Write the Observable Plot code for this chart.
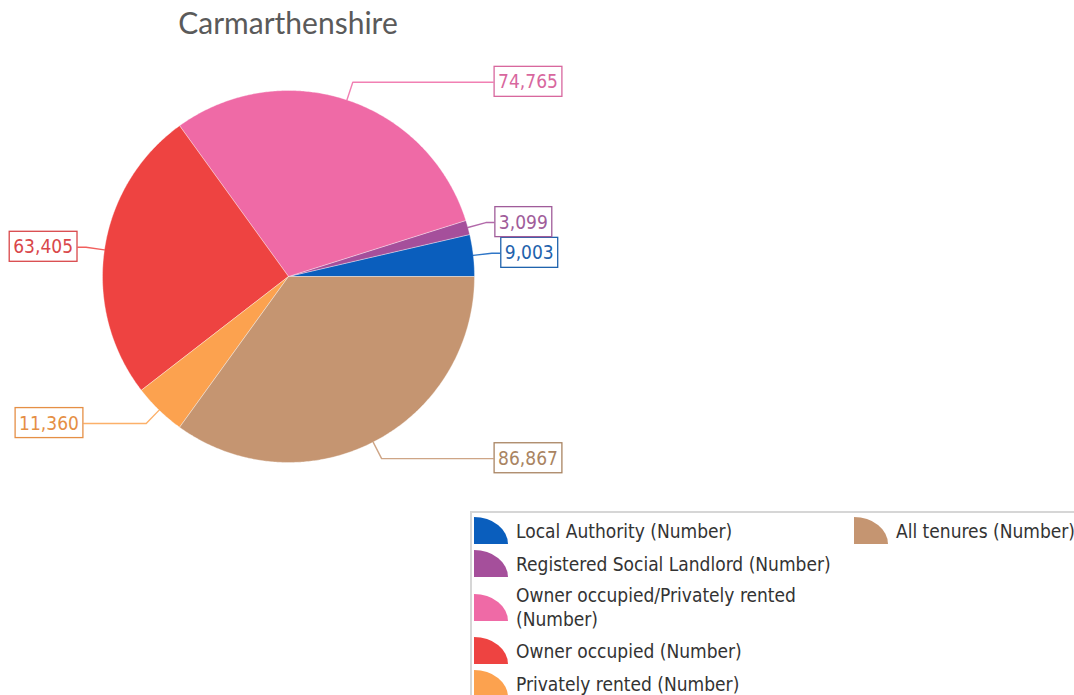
<!DOCTYPE html>
<html>
<head>
<meta charset="utf-8">
<script src="https://cdn.jsdelivr.net/npm/d3@7"></script>
<script src="https://cdn.jsdelivr.net/npm/@observablehq/plot@0.6"></script>
<style>
  html, body { margin: 0; padding: 0; background: #fff; overflow: hidden; }
  #wrap { position: relative; width: 1074px; height: 695px; overflow: hidden; }
  #title { position: absolute; left: 0; top: 4px; width: 576px; text-align: center;
           font-family: Lato, "Open Sans", sans-serif; font-size: 30px; color: #5a5a5a; }
  #chart { position: absolute; left: 0; top: 50px; }
  #legend { position: absolute; left: 470px; top: 511px; width: 640px; height: 220px;
            border: 2px solid #d6d6d6; background: #fff; box-sizing: border-box;
            display: flex; padding-top: 1px; }
  .col { display: flex; flex-direction: column; }
  .col1 { width: 380px; padding-left: 2px; }
  .item { display: flex; align-items: center; padding: 3px 0; }
  .item svg { flex: none; margin-right: 8px; }
  .item span { font-family: "DejaVu Sans Condensed", "DejaVu Sans", sans-serif; font-stretch: condensed;
               font-size: 19px; line-height: 24px; color: #333; max-width: 330px; }
</style>
</head>
<body>
<div id="wrap">
  <div id="title"></div>
  <div id="chart"></div>
  <div id="legend"><div class="col col1" id="leg1"></div><div class="col" id="leg2"></div></div>
</div>
<script>
const title = "Carmarthenshire";
const categories = [
  "Local Authority (Number)",
  "Registered Social Landlord (Number)",
  "Owner occupied/Privately rented (Number)",
  "Owner occupied (Number)",
  "Privately rented (Number)",
  "All tenures (Number)"
];
const values = [9003, 3099, 74765, 63405, 11360, 86867];
const colors = ["#0a5ebd", "#a54f9b", "#ef6aa6", "#ee4341", "#fca24f", "#c59571"];
const textColors = ["#1f63ad", "#a05c9a", "#d8679e", "#d9474a", "#e58f45", "#a98462"];
const legendColumn1 = [0, 1, 2, 3, 4];
const legendColumn2 = [5];

document.getElementById("title").textContent = title;

// layout (pixels)
const cx = 288, cy = 226, R = 186;
const W = 1074, H = 460;

const total = d3.sum(values);
let acc = 0;
const slices = values.map((v, i) => {
  const a0 = acc / total * 2 * Math.PI;
  acc += v;
  const a1 = acc / total * 2 * Math.PI;
  return {i, cat: categories[i], value: v, a0, a1, mid: (a0 + a1) / 2};
});

function arcPoints(s) {
  const n = Math.max(2, Math.ceil((s.a1 - s.a0) / (Math.PI / 360)));
  const pts = [{x: 0, y: 0}];
  for (let k = 0; k <= n; k++) {
    const a = s.a0 + (s.a1 - s.a0) * k / n;
    pts.push({x: Math.cos(a), y: Math.sin(a)});
  }
  pts.push({x: 0, y: 0});
  return pts;
}

const elbowR = 1.1, minBox = 1.1, gap = 8 / R;
const leaders = slices.map(s => {
  const ex = elbowR * Math.cos(s.mid), ey = elbowR * Math.sin(s.mid);
  const side = Math.cos(s.mid) >= 0 ? 1 : -1;
  const bx = side * Math.max(minBox, Math.abs(ex) + gap);
  return {s, side, pts: [
    {x: Math.cos(s.mid), y: Math.sin(s.mid)},
    {x: ex, y: ey},
    {x: bx, y: ey}
  ], lx: bx, ly: ey};
});

const fmt = d3.format(",");
const labelFont = {fontFamily: "'DejaVu Sans Condensed', 'DejaVu Sans', sans-serif", fontSize: 19};

const marks = [];
slices.forEach(s => {
  marks.push(Plot.line(arcPoints(s), {x: "x", y: "y", fill: colors[s.i], stroke: "#ffffff", strokeWidth: 0.6, strokeOpacity: 0.6}));
});
leaders.forEach(l => {
  marks.push(Plot.line(l.pts, {x: "x", y: "y", stroke: colors[l.s.i], strokeWidth: 1.4, strokeOpacity: 0.85}));
});
const rightLabels = leaders.filter(l => l.side > 0);
const leftLabels = leaders.filter(l => l.side < 0);
marks.push(Plot.text(rightLabels, {x: "lx", y: "ly", text: d => fmt(d.s.value), textAnchor: "start", dx: 5,
  fill: d => textColors[d.s.i], ...labelFont}));
marks.push(Plot.text(leftLabels, {x: "lx", y: "ly", text: d => fmt(d.s.value), textAnchor: "end", dx: -5,
  fill: d => textColors[d.s.i], ...labelFont}));

const chart = Plot.plot({
  width: W, height: H, margin: 0,
  x: {type: "linear", domain: [-1, 1], range: [cx - R, cx + R], axis: null},
  y: {type: "linear", domain: [-1, 1], range: [cy + R, cy - R], axis: null},
  color: {type: "identity"},
  style: {background: "transparent", overflow: "visible"},
  marks
});
document.getElementById("chart").appendChild(chart);

// draw boxes behind the value labels
chart.querySelectorAll('g[aria-label="text"] text').forEach(t => {
  const b = t.getBBox();
  const rect = document.createElementNS("http://www.w3.org/2000/svg", "rect");
  rect.setAttribute("x", b.x - 4);
  rect.setAttribute("y", b.y - 4);
  rect.setAttribute("width", b.width + 8);
  rect.setAttribute("height", b.height + 8);
  rect.setAttribute("fill", "#fff");
  rect.setAttribute("stroke", t.getAttribute("fill") || t.parentNode.getAttribute("fill"));
  rect.setAttribute("stroke-width", 1.3);
  if (t.getAttribute("transform")) rect.setAttribute("transform", t.getAttribute("transform"));
  t.parentNode.insertBefore(rect, t);
});

// legend
function legendItem(i) {
  const div = document.createElement("div");
  div.className = "item";
  div.innerHTML = `<svg width="34" height="27"><path d="M0,27L0,0A34,27 0 0 1 34,27Z" fill="${colors[i]}"/></svg>`;
  const span = document.createElement("span");
  span.textContent = categories[i];
  div.appendChild(span);
  return div;
}
legendColumn1.forEach(i => document.getElementById("leg1").appendChild(legendItem(i)));
legendColumn2.forEach(i => document.getElementById("leg2").appendChild(legendItem(i)));
</script>
</body>
</html>
